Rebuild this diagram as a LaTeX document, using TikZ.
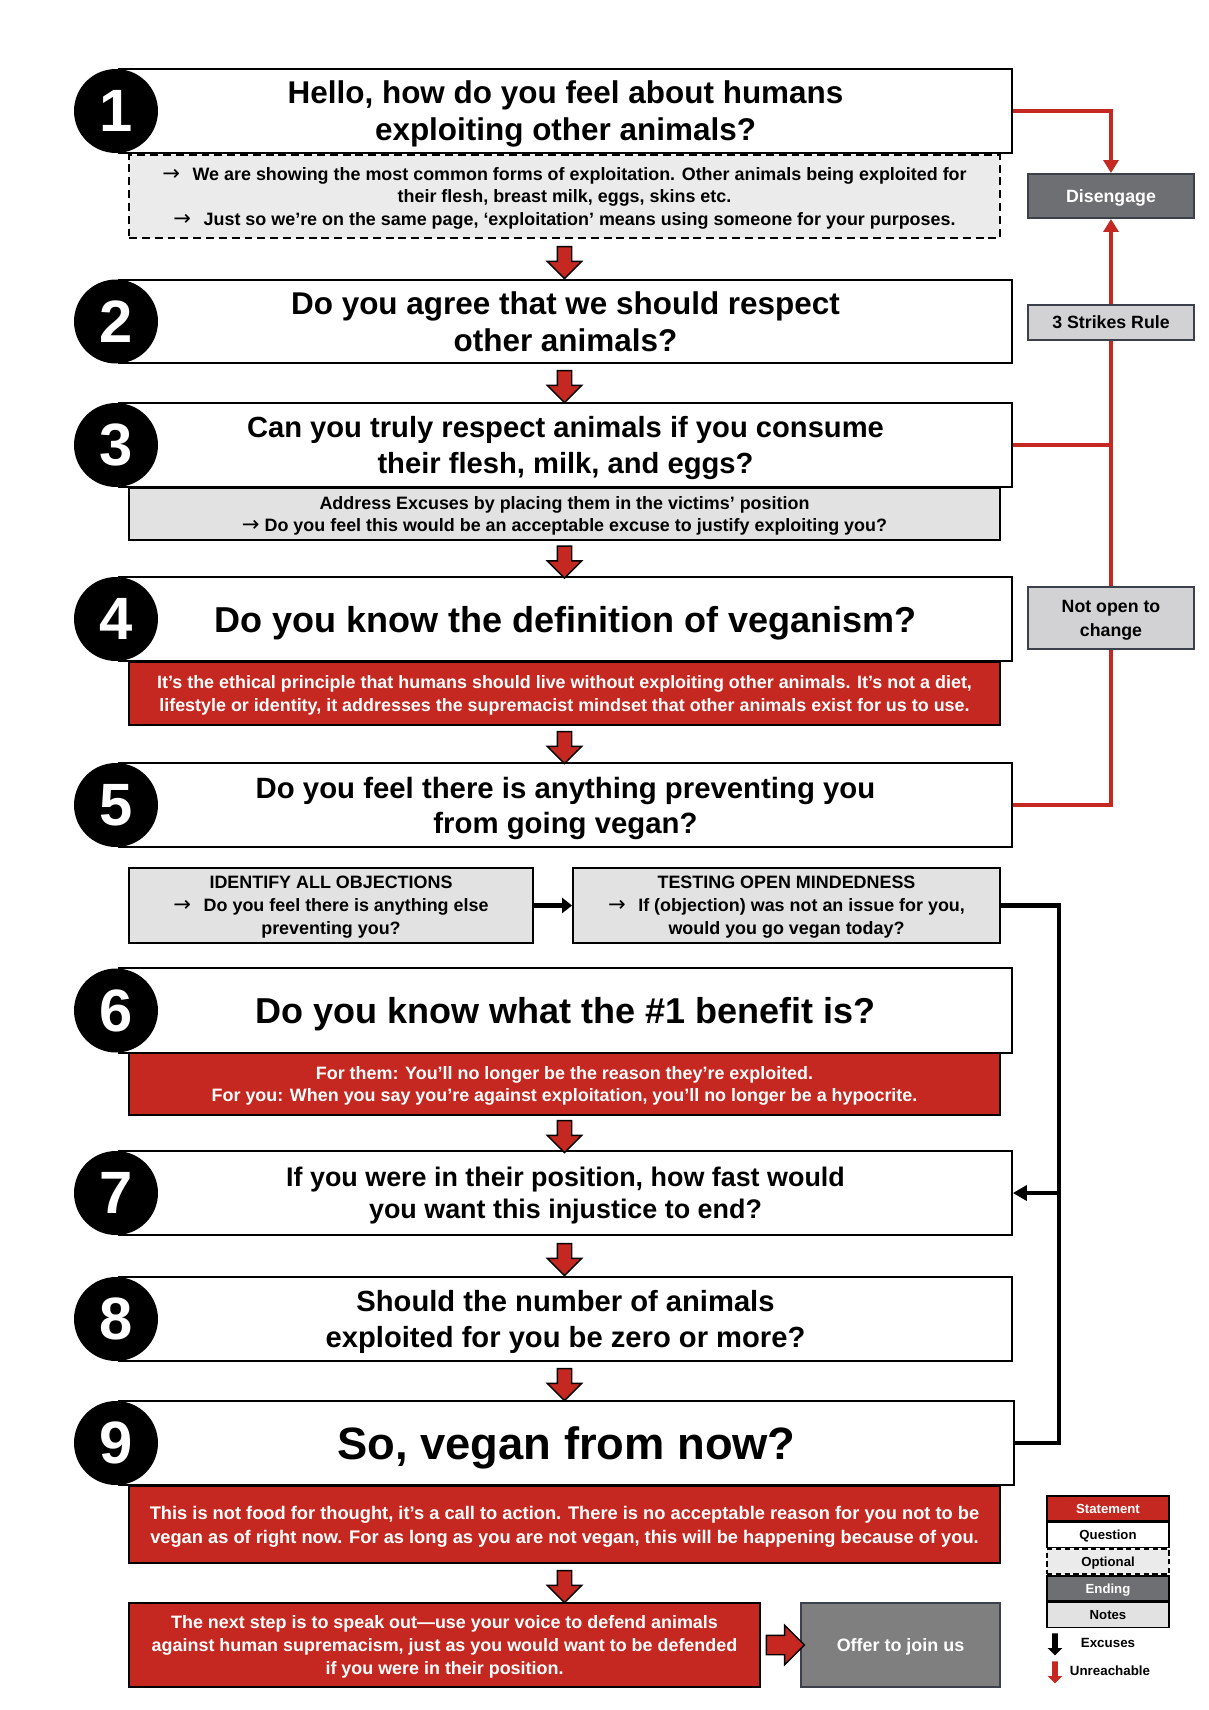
\documentclass[tikz,border=0pt]{standalone}
\usepackage{fontspec}
\setmainfont{Liberation Sans}
\newfontfamily\arrowfont{DejaVu Sans}
\usetikzlibrary{shapes.arrows,arrows.meta,calc,positioning}

\definecolor{vred}{HTML}{C52821}
\definecolor{optgray}{HTML}{EBEBEB}
\definecolor{notegray}{HTML}{E2E2E2}
\definecolor{sidegray}{HTML}{D2D2D4}
\definecolor{endgray}{HTML}{6E6F72}
\definecolor{offergray}{HTML}{7F7F80}
\definecolor{edgegray}{HTML}{3B404B}

\newcommand{\setfs}[2]{\fontsize{#1}{#2}\selectfont\bfseries}
\newcommand{\notearrow}{{\arrowfont\mdseries\fontsize{12}{13}\selectfont →}}

\tikzset{
  box/.style={draw=black, line width=1.1pt, align=center, inner sep=0pt, text depth=-2pt},
  qbox/.style={box, fill=white, minimum width=17.86cm, minimum height=1.68cm, text depth=-1.8pt},
  optbox/.style={box, fill=optgray, dash pattern=on 4.5pt off 2.8pt, minimum width=17.42cm, font=\setfs{10.2}{13}},
  notebox/.style={box, fill=notegray, minimum width=17.42cm, font=\setfs{10.2}{13}},
  stmtbox/.style={box, fill=vred, text=white, minimum width=17.42cm, font=\setfs{10.2}{13}},
  sidebox/.style={box, draw=edgegray, fill=sidegray, minimum width=3.32cm, font=\setfs{10.1}{13.6}},
  numcirc/.style={circle, fill=black, text=white, minimum size=1.68cm, inner sep=0pt, font=\setfs{34}{34}},
  downarr/.style={single arrow, draw=black, line width=0.8pt, fill=vred, rotate=-90,
    minimum height=0.64cm, inner xsep=0pt, inner ysep=0.13cm, single arrow head extend=0.2cm},
  rightarr/.style={single arrow, draw=black, line width=0.8pt, fill=vred,
    minimum height=0.76cm, inner xsep=0pt, inner ysep=0.18cm, single arrow head extend=0.2cm},
  tinyarr/.style={single arrow, rotate=-90, minimum height=0.44cm, inner xsep=0pt,
    inner ysep=0.05cm, single arrow head extend=0.09cm},
  lgbox/.style={box, line width=0.9pt, minimum width=2.44cm, minimum height=0.5cm, text depth=-1pt, font=\setfs{7.5}{9}},
  redline/.style={draw=vred, line width=1.8pt},
  blkline/.style={draw=black, line width=2.4pt}
}

\begin{document}
\begin{tikzpicture}[x=0.02cm,y=-0.02cm]
\fill[white] (0,0) rectangle (1208,1710);
\useasboundingbox (0,0) rectangle (1208,1710);

% notes and statements under the questions
\node[optbox, minimum height=1.66cm] (n1) at (564.5,196.5)
  {\notearrow\hspace{0.7em}We are showing the most common forms of exploitation. Other animals being exploited for\\
   their flesh, breast milk, eggs, skins etc.\\
   \notearrow\hspace{0.7em}Just so we’re on the same page, ‘exploitation’ means using someone for your purposes.};
\node[notebox, minimum height=1.04cm] (n3) at (564.5,514)
  {Address Excuses by placing them in the victims’ position\\
   \notearrow\ Do you feel this would be an acceptable excuse to justify exploiting you?};
\node[stmtbox, minimum height=1.26cm] (s4) at (564.5,693.5)
  {It’s the ethical principle that humans should live without exploiting other animals. It’s not a diet,\\
   lifestyle or identity, it addresses the supremacist mindset that other animals exist for us to use.};
\node[notebox, minimum width=8.08cm, minimum height=1.5cm, text depth=-2.8pt] (n5a) at (331,905.5)
  {IDENTIFY ALL OBJECTIONS\\ \notearrow\hspace{0.7em}Do you feel there is anything else\\ preventing you?};
\node[notebox, minimum width=8.54cm, minimum height=1.5cm, text depth=-2.8pt] (n5b) at (786.5,905.5)
  {TESTING OPEN MINDEDNESS\\ \notearrow\hspace{0.7em}If (objection) was not an issue for you,\\ would you go vegan today?};
\node[stmtbox, minimum height=1.24cm] (s6) at (564.5,1084)
  {For them: You’ll no longer be the reason they’re exploited.\\
   For you: When you say you’re against exploitation, you’ll no longer be a hypocrite.};
\node[stmtbox, minimum height=1.54cm, text depth=-2.8pt, font=\setfs{10.4}{13.6}] (s9) at (564.5,1524.5)
  {This is not food for thought, it’s a call to action. There is no acceptable reason for you not to be\\
   vegan as of right now. For as long as you are not vegan, this will be happening because of you.};
\node[stmtbox, minimum width=12.62cm, minimum height=1.68cm, text depth=-2.8pt] (s10) at (444.5,1645)
  {The next step is to speak out—use your voice to defend animals\\
   against human supremacism, just as you would want to be defended\\
   if you were in their position.};
\node[box, draw=edgegray, fill=offergray, text=white, minimum width=3.98cm, minimum height=1.68cm,
  font=\setfs{10.2}{13}] (join) at (900.5,1645) {Offer to join us};

% questions
\node[qbox, font=\setfs{17.9}{21}] (q1) at (565.5,111)
  {Hello, how do you feel about humans\\ exploiting other animals?};
\node[qbox, minimum height=1.66cm, font=\setfs{17.9}{21}] (q2) at (565.5,321.5)
  {Do you agree that we should respect\\ other animals?};
\node[qbox, font=\setfs{16.6}{20.5}] (q3) at (565.5,445)
  {Can you truly respect animals if you consume\\ their flesh, milk, and eggs?};
\node[qbox, font=\setfs{20.5}{24}] (q4) at (565.5,619)
  {Do you know the definition of veganism?};
\node[qbox, font=\setfs{16.7}{20}, text depth=-2.6pt] (q5) at (565.5,805)
  {Do you feel there is anything preventing you\\ from going vegan?};
\node[qbox, minimum height=1.7cm, font=\setfs{20.5}{24}] (q6) at (565.5,1010.5)
  {Do you know what the \#1 benefit is?};
\node[qbox, font=\setfs{15.3}{18}, text depth=-2.6pt] (q7) at (565.5,1193)
  {If you were in their position, how fast would\\ you want this injustice to end?};
\node[qbox, font=\setfs{16.6}{20.5}] (q8) at (565.5,1319)
  {Should the number of animals\\ exploited for you be zero or more?};
\node[qbox, minimum width=17.9cm, text depth=-3pt, font=\setfs{25.8}{30}] (q9) at (566.5,1443)
  {So, vegan from now?};

% step numbers
\node[numcirc] (c1) at (116,111) {1};
\node[numcirc] (c2) at (116,321.5) {2};
\node[numcirc] (c3) at (116,445) {3};
\node[numcirc] (c4) at (116,619) {4};
\node[numcirc] (c5) at (116,805) {5};
\node[numcirc] (c6) at (116,1010.5) {6};
\node[numcirc] (c7) at (116,1193) {7};
\node[numcirc] (c8) at (116,1319) {8};
\node[numcirc] (c9) at (116,1443) {9};

% red block arrows
\node[downarr] (a1) at ($(n1.south)!0.5!(n1.south |- q2.north)$) {};
\node[downarr] (a2) at ($(n1.south |- q2.south)!0.5!(n1.south |- q3.north)$) {};
\node[downarr] (a3) at ($(n3.south)!0.5!(n3.south |- q4.north)$) {};
\node[downarr] (a4) at ($(s4.south)!0.5!(s4.south |- q5.north)$) {};
\node[downarr] (a6) at ($(s6.south)!0.5!(s6.south |- q7.north)$) {};
\node[downarr] (a7) at ($(s6.south |- q7.south)!0.5!(s6.south |- q8.north)$) {};
\node[downarr] (a8) at ($(s6.south |- q8.south)!0.5!(s6.south |- q9.north)$) {};
\node[downarr] (a9) at ($(s9.south)!0.5!(s9.south |- s10.north)$) {};
\node[rightarr] (a10) at ($(s10.east)!0.5!(join.west)$) {};

% disengage column
\node[sidebox, fill=endgray, text=white, minimum height=0.88cm] (dis) at (1111,196) {Disengage};
\node[sidebox, minimum height=0.7cm] (strikes) at (1111,322.5) {3 Strikes Rule};
\node[sidebox, minimum height=1.24cm] (notopen) at (1111,618) {Not open to\\ change};

\draw[redline, -{Triangle[length=0.26cm,width=0.3cm]}] (q1.east) -| (dis.north);
\draw[redline] (q3.east) -- (q3.east -| dis.south);
\draw[redline] (q5.east) -| (notopen.south);
\draw[redline] (notopen.north) -- (strikes.south);
\draw[redline, -{Triangle[length=0.26cm,width=0.3cm]}] (strikes.north) -- (dis.south);

% objections loop
\coordinate (brk) at (1059,905.5);
\draw[blkline, -{Triangle[length=0.2cm,width=0.3cm]}] (n5a.east) -- (n5b.west);
\draw[blkline, line join=miter] (n5b.east) -- (brk) |- (q9.east);
\draw[blkline, -{Triangle[length=0.28cm,width=0.3cm]}] (brk |- q7.east) -- (q7.east);

% legend
\node[lgbox, fill=vred, text=white] (lgS) at (1108,1508.5) {Statement};
\node[lgbox, fill=white, below=0pt of lgS] (lgQ) {Question};
\node[lgbox, fill=optgray, dash pattern=on 3pt off 2pt, below=0pt of lgQ] (lgO) {Optional};
\node[lgbox, fill=endgray, text=white, below=0pt of lgO] (lgE) {Ending};
\node[lgbox, fill=notegray, below=0pt of lgE] (lgN) {Notes};

\node[tinyarr, fill=black] (exA) at (1055,1643) {};
\node[font=\setfs{7.6}{9}] (exT) at (1108,1643) {Excuses};
\node[tinyarr, fill=vred] (unA) at (1055,1671) {};
\node[font=\setfs{7.6}{9}] (unT) at (1110,1671) {Unreachable};
\end{tikzpicture}
\end{document}
